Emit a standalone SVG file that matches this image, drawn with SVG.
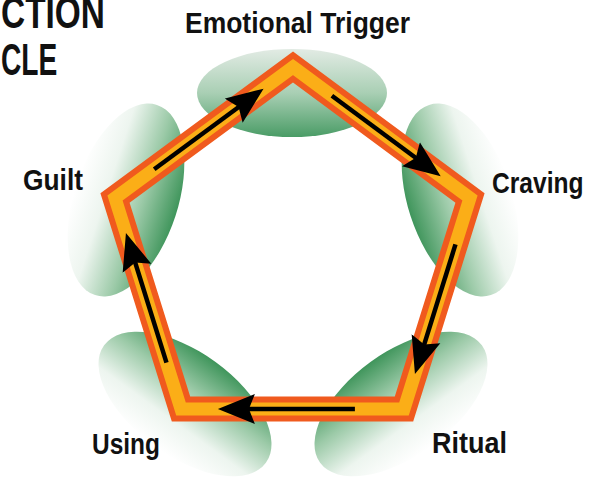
<svg xmlns="http://www.w3.org/2000/svg" width="591" height="479" viewBox="0 0 591 479">
<style>
.lbl{font-family:"Liberation Sans",Arial,sans-serif;font-weight:bold;fill:#111;}
.petal{fill:url(#pg);}
.bandO{fill:none;stroke:#F05A1E;stroke-width:25;stroke-linejoin:miter;}
.bandY{fill:none;stroke:#FBAE17;stroke-width:13;stroke-linejoin:miter;}
.arr{fill:none;stroke:#000;stroke-width:4.5;marker-end:url(#ah);}
</style>
<defs>
<linearGradient id="pg" x1="0" y1="0" x2="0" y2="1">
<stop offset="0" stop-color="#ffffff"/>
<stop offset="0.3" stop-color="#edf5ef"/>
<stop offset="0.65" stop-color="#9ccaa8"/>
<stop offset="1" stop-color="#3f955b"/>
</linearGradient>
<linearGradient id="pgTop" x1="0" y1="0" x2="0" y2="1">
<stop offset="0" stop-color="#e2ebe4"/>
<stop offset="0.5" stop-color="#a9cfb4"/>
<stop offset="1" stop-color="#4a9c66"/>
</linearGradient>
<marker id="ah" markerUnits="userSpaceOnUse" markerWidth="40" markerHeight="34" refX="10" refY="16" orient="auto" viewBox="0 0 40 34">
<path d="M0,1 L37,16 L0,31 L6,16 Z" fill="#000"/>
</marker>
</defs>
<g id="title">
<text class="lbl" x="0" y="0" font-size="44" transform="translate(1,28) scale(0.76,1)">CTION</text>
<text class="lbl" x="0" y="0" font-size="44" transform="translate(1,75) scale(0.64,1)">CLE</text>
</g>
<g id="petals">
<ellipse cx="0" cy="0" rx="95" ry="44" fill="url(#pgTop)" transform="translate(292,93)"/>
<ellipse class="petal" cx="0" cy="0" rx="100" ry="52" transform="translate(460,200) rotate(72)"/>
<ellipse class="petal" cx="0" cy="0" rx="100" ry="52" transform="translate(401,404) rotate(144)"/>
<ellipse class="petal" cx="0" cy="0" rx="100" ry="52" transform="translate(185,404) rotate(216)"/>
<ellipse class="petal" cx="0" cy="0" rx="100" ry="52" transform="translate(126,200) rotate(288)"/>
</g>
<g id="cycle">
<polygon class="bandO" points="293,67 470,198 404,409 181,409 115,198"/>
<polygon class="bandY" points="293,67 470,198 404,409 181,409 115,198"/>
</g>
<g id="connectors">
<line class="arr" x1="154.2" y1="169.2" x2="241.8" y2="104.7"/>
<line class="arr" x1="331.9" y1="95.8" x2="419" y2="160.2"/>
<line class="arr" x1="455.5" y1="244.4" x2="423" y2="348.3"/>
<line class="arr" x1="354.9" y1="409" x2="244.9" y2="409"/>
<line class="arr" x1="166.5" y1="362.6" x2="134" y2="258.7"/>
</g>
<g id="node-trigger"><text class="lbl" x="185" y="33" font-size="29" textLength="225" lengthAdjust="spacingAndGlyphs">Emotional Trigger</text></g>
<g id="node-craving"><text class="lbl" x="0" y="0" font-size="30" transform="translate(492,193) scale(0.82,1)">Craving</text></g>
<g id="node-ritual"><text class="lbl" x="432" y="453" font-size="30" textLength="75" lengthAdjust="spacingAndGlyphs">Ritual</text></g>
<g id="node-using"><text class="lbl" x="92" y="454" font-size="30" textLength="68" lengthAdjust="spacingAndGlyphs">Using</text></g>
<g id="node-guilt"><text class="lbl" x="23" y="190" font-size="30" textLength="60" lengthAdjust="spacingAndGlyphs">Guilt</text></g>
</svg>
